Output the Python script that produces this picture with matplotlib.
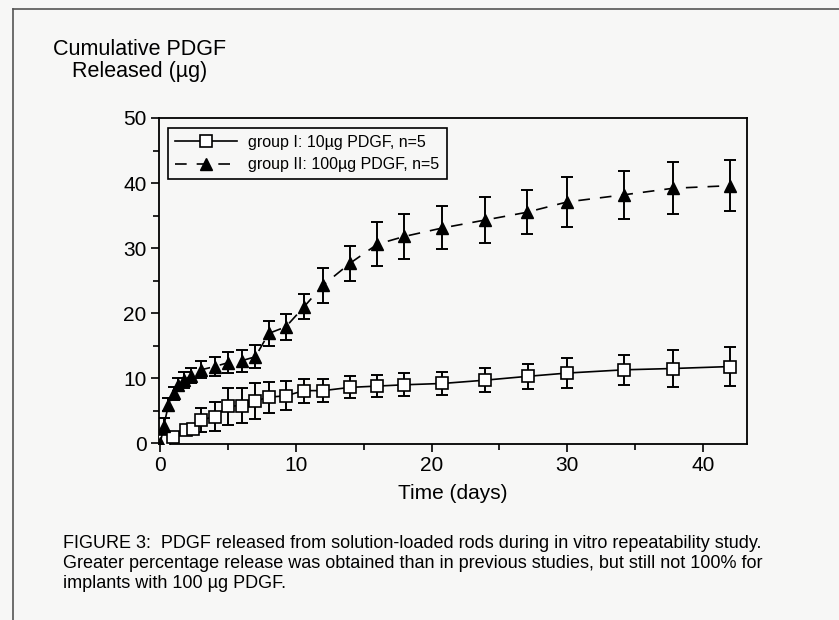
import matplotlib
matplotlib.use("Agg")
import matplotlib.pyplot as plt
from matplotlib.lines import Line2D

plt.rcParams["font.family"] = ["Liberation Sans", "DejaVu Sans"]

# ---------------------------------------------------------------------------
# donnees (jours, moyenne, ecart-type)
# ---------------------------------------------------------------------------
days_g1 = [0, 0.25, 0.9, 1.9, 2.4, 3.0, 4.0, 5.0, 6.0, 7.0, 8.0, 9.25, 10.6,
           12.0, 14.0, 16.0, 18.0, 20.8, 23.9, 27.1, 30.0, 34.2, 37.8, 42.0]
mean_g1 = [0, 0.3, 1.0, 2.1, 2.2, 3.6, 4.1, 5.7, 5.8, 6.5, 7.1, 7.3, 8.1,
           8.1, 8.6, 8.8, 9.0, 9.2, 9.7, 10.3, 10.8, 11.3, 11.5, 11.8]
sd_g1 = [0.2, 0.3, 0.4, 0.6, 0.8, 1.9, 2.2, 2.85, 2.7, 2.75, 2.4, 2.25, 1.85,
         1.8, 1.7, 1.65, 1.75, 1.75, 1.85, 1.9, 2.25, 2.3, 2.85, 3.0]

days_g2 = [0, 0.25, 0.6, 1.0, 1.3, 1.75, 2.25, 3.0, 4.0, 5.0, 6.0, 7.0, 8.0,
           9.25, 10.6, 12.0, 14.0, 16.0, 18.0, 20.8, 23.9, 27.0, 30.0, 34.2,
           37.8, 42.0]
mean_g2 = [0, 2.7, 5.9, 7.7, 9.0, 9.7, 10.4, 11.3, 11.8, 12.4, 12.7, 13.3,
           16.9, 17.9, 21.0, 24.3, 27.7, 30.6, 31.8, 33.1, 34.3, 35.5, 37.1,
           38.2, 39.2, 39.6]
sd_g2 = [0.3, 1.2, 1.0, 1.0, 1.0, 1.2, 1.2, 1.3, 1.5, 1.65, 1.7, 1.75, 1.95,
         1.95, 1.95, 2.7, 2.7, 3.4, 3.5, 3.3, 3.5, 3.4, 3.9, 3.7, 4.0, 3.9]

label_g1 = "group I: 10µg PDGF, n=5"
label_g2 = "group II: 100µg PDGF, n=5"
x_ticks = [0, 10, 20, 30, 40]
y_ticks = [0, 10, 20, 30, 40, 50]

caption = ("FIGURE 3:  PDGF released from solution-loaded rods during in vitro repeatability study.\n"
           "Greater percentage release was obtained than in previous studies, but still not 100% for\n"
           "implants with 100 µg PDGF.")

# ---------------------------------------------------------------------------
# figure
# ---------------------------------------------------------------------------
bg = "#f7f7f6"
fig = plt.figure(figsize=(8.39, 6.2), dpi=100, facecolor=bg)
ax = fig.add_axes([0.1895, 0.2839, 0.7008, 0.5258])
ax.set_facecolor(bg)

# cadre du scan (haut et gauche seulement)
fig.add_artist(Line2D([0.016, 1.0], [0.986, 0.986], color="#555555", lw=1.2))
fig.add_artist(Line2D([0.016, 0.016], [0.0, 0.986], color="#555555", lw=1.2))

err_kw = dict(fmt="none", ecolor="black", elinewidth=1.4, capsize=4.5,
              capthick=1.4, zorder=2)
ax.errorbar(days_g1, mean_g1, yerr=sd_g1, **err_kw)
ax.errorbar(days_g2, mean_g2, yerr=sd_g2, **err_kw)

ax.plot(days_g1, mean_g1, color="black", lw=1.2, marker="s", markersize=9,
        markerfacecolor="white", markeredgecolor="black", markeredgewidth=1.2,
        label=label_g1, zorder=3)
ax.plot(days_g2, mean_g2, color="black", lw=1.2, linestyle=(0, (7, 6)),
        marker="^", markersize=8.5, markerfacecolor="black",
        markeredgecolor="black", label=label_g2, zorder=3)

ax.set_xlim(-0.1, 43.25)
ax.set_ylim(-0.1, 50)
ax.set_xticks(x_ticks)
ax.set_yticks(y_ticks)
ax.set_xticks([5, 15, 25, 35], minor=True)
ax.set_yticks([5, 15, 25, 35, 45], minor=True)
ax.tick_params(axis="both", which="major", direction="out", length=6,
               width=1.2, labelsize=15, pad=3)
ax.tick_params(axis="both", which="minor", direction="out", length=4,
               width=1.2)
for s in ax.spines.values():
    s.set_linewidth(1.3)

ax.set_xlabel("Time (days)", fontsize=15, labelpad=6)

fig.text(0.166, 0.903, "Cumulative PDGF\nReleased (µg)", ha="center",
         va="center", multialignment="center", fontsize=15.5, linespacing=1.05)

leg = ax.legend(loc="upper left", bbox_to_anchor=(0.015, 0.97),
                borderaxespad=0, fontsize=11.5, handlelength=3.9,
                handletextpad=0.7, labelspacing=0.45, numpoints=1,
                fancybox=False, framealpha=1, edgecolor="black",
                borderpad=0.45)
leg.get_frame().set_linewidth(1.2)
leg.get_frame().set_facecolor(bg)

fig.text(0.075, 0.091, caption, ha="left", va="center", fontsize=13,
         linespacing=1.22)

fig.savefig("out.png", dpi=100, facecolor=bg)
